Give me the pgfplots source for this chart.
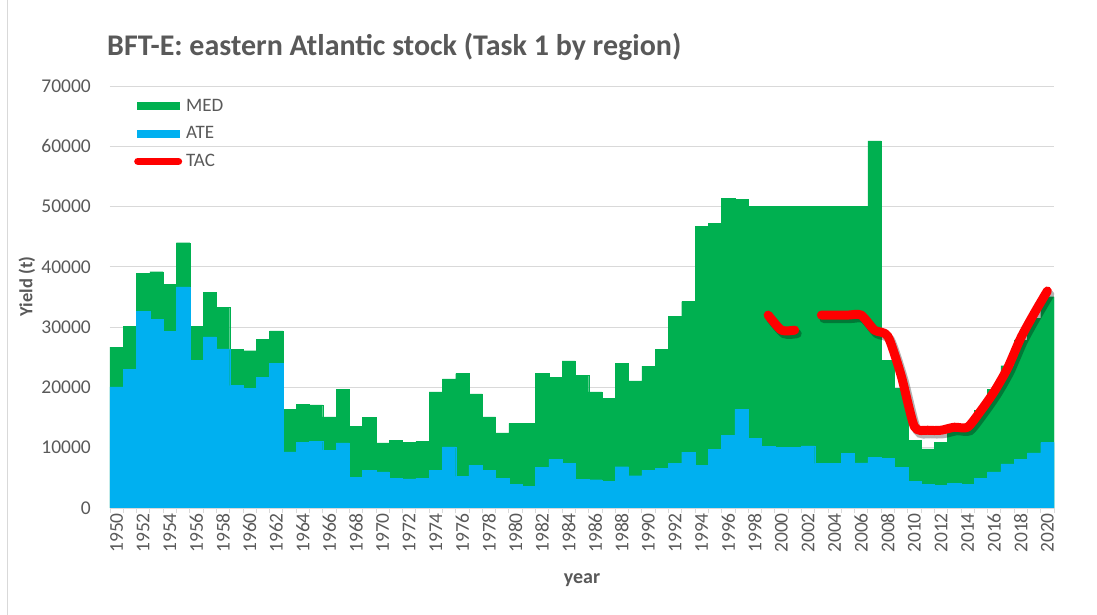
\documentclass[border=0pt]{standalone}
\usepackage{fontspec}
\setmainfont{Carlito}
\usepackage{pgfplots}
\pgfplotsset{compat=1.18}
\usepackage{pgfplotstable}

\definecolor{medgreen}{HTML}{00B050}
\definecolor{ateblue}{HTML}{00B0F0}
\definecolor{txtgray}{HTML}{595959}
\definecolor{gridgray}{HTML}{D9D9D9}

% Task 1 catches (t) by region
\pgfplotstableread{
year ate med
1950 20100 6600
1951 23000 7100
1952 32600 6300
1953 31300 7900
1954 29350 7750
1955 36700 7300
1956 24500 5600
1957 28400 7400
1958 26400 6900
1959 20300 6000
1960 19850 6250
1961 21700 6300
1962 24000 5400
1963 9300 7100
1964 10900 6300
1965 11100 6000
1966 9600 5500
1967 10800 8900
1968 5100 8400
1969 6300 8700
1970 6000 4800
1971 4900 6300
1972 4850 6050
1973 4900 6150
1974 6200 13050
1975 10150 11250
1976 5250 17050
1977 7100 11850
1978 6250 8850
1979 4920 7530
1980 3980 10070
1981 3550 10500
1982 6750 15600
1983 8050 13650
1984 7400 17000
1985 4800 17200
1986 4700 14550
1987 4450 13750
1988 6850 17200
1989 5350 15750
1990 6300 17250
1991 6600 19750
1992 7400 24350
1993 9250 25000
1994 7100 39600
1995 9750 37500
1996 12050 39350
1997 16350 34850
1998 11550 38450
1999 10200 39800
2000 10050 39950
2001 10050 39950
2002 10300 39700
2003 7400 42600
2004 7400 42600
2005 9050 40950
2006 7500 42500
2007 8400 52500
2008 8200 16300
2009 6750 13100
2010 4400 6850
2011 3980 5820
2012 3800 7100
2013 4100 8600
2014 3950 9850
2015 4900 11300
2016 6000 13700
2017 7300 16300
2018 8100 19800
2019 9150 22350
2020 10850 24200
}\catches

% TAC (t)
\pgfplotstableread{
year tac
1999 32000
2000 29500
2001 29500
}\tacA
\pgfplotstableread{
year tac
2003 32000
2004 32000
2005 32000
2006 32000
2007 29500
2008 28500
2009 22000
2010 13500
2011 12900
2012 12900
2013 13400
2014 13400
2015 16142
2016 19296
2017 23155
2018 28200
2019 32240
2020 36000
}\tacB

\begin{document}
\begin{tikzpicture}
\useasboundingbox (-110pt,-107pt) rectangle (987pt,508pt);
\draw[gridgray] (-103pt,-107pt) -- (-103pt,508pt);
\begin{axis}[
  at={(0,0)}, anchor=south west,
  width=944pt, height=422pt, scale only axis,
  xmin=1949.5, xmax=2020.5, ymin=0, ymax=70000,
  axis lines*=left,
  x axis line style={draw=gridgray, line width=0.8pt},
  y axis line style={draw=none},
  xtick={1950,1952,...,2020},
  minor xtick={1949.5,1950.5,...,2020.5},
  ytick={0,10000,...,70000},
  scaled y ticks=false,
  major tick length=0pt, minor tick length=5pt,
  tick align=outside,
  minor tick style={draw=gridgray, line width=0.8pt},
  ymajorgrids,
  grid style={draw=gridgray, line width=0.8pt},
  /pgf/number format/1000 sep={},
  /pgf/number format/assume math mode=true,
  ticklabel style={font=\fontsize{19.5}{21}\selectfont, text=txtgray, inner sep=0pt},
  xticklabel style={rotate=90, anchor=east},
  xticklabel shift=5pt,
  yticklabel shift=19pt,
  xlabel={year},
  ylabel={Yield (t)},
  every axis x label/.style={at={(rel axis cs:0.5,0)}, yshift=-72pt, anchor=center,
    font=\bfseries\fontsize{20}{22}\selectfont, text=txtgray},
  every axis y label/.style={at={(rel axis cs:0,0.525)}, xshift=-83pt, rotate=90, anchor=center,
    font=\bfseries\fontsize{18.5}{20}\selectfont, text=txtgray},
  legend style={at={(rel axis cs:0.0254,0.972)}, anchor=north west, draw=none, fill=none,
    inner sep=0pt, row sep=12pt, column sep=3pt,
    font=\fontsize{19}{21}\selectfont, text=txtgray,
    nodes={inner sep=1pt}},
  legend cell align=left,
]
\addlegendimage{legend image code/.code={\fill[medgreen] (3pt,-3.5pt) rectangle (45pt,3.5pt);}}
\addlegendentry{MED}
\addlegendimage{legend image code/.code={\fill[ateblue] (3pt,-3.5pt) rectangle (45pt,3.5pt);}}
\addlegendentry{ATE}
\addlegendimage{legend image code/.code={\draw[red, line width=7.5pt, line cap=round] (3.75pt,0pt) -- (44.25pt,0pt);}}
\addlegendentry{TAC}

\addplot[ybar, bar width=1, bar shift=0pt, fill=medgreen, draw=medgreen, line width=0.3pt, forget plot]
  table[x=year, y expr=\thisrow{ate}+\thisrow{med}] {\catches};
\addplot[ybar, bar width=1, bar shift=0pt, fill=ateblue, draw=ateblue, line width=0.3pt, forget plot]
  table[x=year, y=ate] {\catches};

\addplot[black, opacity=0.3, line width=9pt, smooth, tension=0.4, line cap=round, xshift=2.5pt, yshift=-3.5pt, forget plot]
  table[x=year, y=tac] {\tacA};
\addplot[black, opacity=0.3, line width=9pt, smooth, tension=0.4, line cap=round, xshift=2.5pt, yshift=-3.5pt, forget plot]
  table[x=year, y=tac] {\tacB};
\addplot[red, line width=9pt, smooth, tension=0.4, line cap=round, line join=round, forget plot]
  table[x=year, y=tac] {\tacA};
\addplot[red, line width=9pt, smooth, tension=0.4, line cap=round, line join=round, forget plot]
  table[x=year, y=tac] {\tacB};
\end{axis}
\node[anchor=west, font=\bfseries\fontsize{30}{32}\selectfont, text=txtgray, inner sep=0pt] at (-3pt,461pt)
  {BFT-E: eastern Atlantic stock (Task 1 by region)};
\end{tikzpicture}
\end{document}
